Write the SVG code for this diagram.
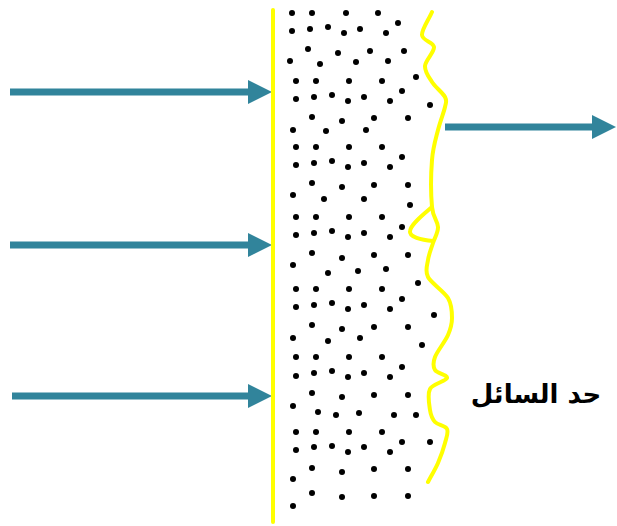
<svg xmlns="http://www.w3.org/2000/svg" width="617" height="526" viewBox="0 0 617 526">
  <style>
    .flow { stroke: #31849b; stroke-width: 7; fill: none; marker-end: url(#head); }
    .wall { stroke: #ffff00; stroke-width: 4; fill: none; stroke-linecap: round; stroke-linejoin: round; }
    .dot { fill: #000000; }
    .label { font-family: "DejaVu Sans", "Noto Sans", sans-serif; font-weight: bold; font-size: 26px; fill: #000000; }
  </style>
  <defs>
    <marker id="head" markerUnits="userSpaceOnUse" viewBox="0 0 24 24" markerWidth="24" markerHeight="24" refX="16" refY="12" orient="auto">
      <path d="M0,0 L24,12 L0,24 Z" fill="#31849b"/>
    </marker>
  </defs>
  <rect width="617" height="526" fill="#ffffff"/>

  <!-- incoming and outgoing flow arrows -->
  <g id="connectors">
    <line class="flow" x1="10" y1="92" x2="264" y2="92"/>
    <line class="flow" x1="10" y1="245" x2="264" y2="245"/>
    <line class="flow" x1="12" y1="396" x2="264" y2="396"/>
    <line class="flow" x1="445" y1="127" x2="608" y2="127"/>
  </g>

  <!-- straight solid boundary -->
  <g id="solid-boundary">
    <line class="wall" x1="273" y1="10" x2="273" y2="522" stroke-linecap="butt"/>
  </g>

  <!-- particles between the two boundaries -->
  <g id="particles" class="dot">
    <circle cx="292" cy="13" r="3"/><circle cx="312" cy="13" r="3"/><circle cx="346" cy="13" r="3"/><circle cx="378" cy="13" r="3"/><circle cx="398" cy="23" r="3"/>
    <circle cx="292" cy="31" r="3"/><circle cx="310" cy="29" r="3"/><circle cx="328" cy="27" r="3"/><circle cx="344" cy="33" r="3"/><circle cx="360" cy="29" r="3"/><circle cx="386" cy="33" r="3"/>
    <circle cx="308" cy="49" r="3"/><circle cx="338" cy="53" r="3"/><circle cx="370" cy="51" r="3"/><circle cx="404" cy="51" r="3"/>
    <circle cx="290" cy="61" r="3"/><circle cx="320" cy="64" r="3"/><circle cx="356" cy="62" r="3"/><circle cx="388" cy="61" r="3"/>
    <circle cx="296" cy="81" r="3"/><circle cx="316" cy="81" r="3"/><circle cx="349" cy="81" r="3"/><circle cx="382" cy="81" r="3"/><circle cx="416" cy="77" r="3"/>
    <circle cx="296" cy="99" r="3"/><circle cx="314" cy="97" r="3"/><circle cx="332" cy="95" r="3"/><circle cx="348" cy="101" r="3"/><circle cx="364" cy="97" r="3"/><circle cx="390" cy="101" r="3"/><circle cx="402" cy="91" r="3"/><circle cx="430" cy="105" r="3"/>
    <circle cx="312" cy="117" r="3"/><circle cx="342" cy="121" r="3"/><circle cx="374" cy="118" r="3"/><circle cx="408" cy="118" r="3"/>
    <circle cx="293" cy="130" r="3"/><circle cx="326" cy="131" r="3"/><circle cx="366" cy="130" r="3"/>
    <circle cx="296" cy="147" r="3"/><circle cx="316" cy="147" r="3"/><circle cx="349" cy="147" r="3"/><circle cx="382" cy="147" r="3"/><circle cx="402" cy="157" r="3"/>
    <circle cx="296" cy="165" r="3"/><circle cx="314" cy="163" r="3"/><circle cx="332" cy="161" r="3"/><circle cx="348" cy="167" r="3"/><circle cx="364" cy="163" r="3"/><circle cx="390" cy="167" r="3"/>
    <circle cx="312" cy="183" r="3"/><circle cx="342" cy="187" r="3"/><circle cx="374" cy="185" r="3"/><circle cx="408" cy="185" r="3"/>
    <circle cx="293" cy="195" r="3"/><circle cx="324" cy="199" r="3"/><circle cx="364" cy="199" r="3"/><circle cx="410" cy="205" r="3"/>
    <circle cx="296" cy="217" r="3"/><circle cx="316" cy="217" r="3"/><circle cx="349" cy="217" r="3"/><circle cx="382" cy="217" r="3"/><circle cx="402" cy="227" r="3"/>
    <circle cx="296" cy="235" r="3"/><circle cx="314" cy="233" r="3"/><circle cx="332" cy="231" r="3"/><circle cx="348" cy="237" r="3"/><circle cx="364" cy="233" r="3"/><circle cx="390" cy="237" r="3"/>
    <circle cx="312" cy="253" r="3"/><circle cx="342" cy="258" r="3"/><circle cx="374" cy="255" r="3"/><circle cx="408" cy="255" r="3"/>
    <circle cx="293" cy="265" r="3"/><circle cx="328" cy="273" r="3"/><circle cx="358" cy="271" r="3"/><circle cx="386" cy="269" r="3"/><circle cx="418" cy="283" r="3"/>
    <circle cx="296" cy="289" r="3"/><circle cx="316" cy="289" r="3"/><circle cx="349" cy="289" r="3"/><circle cx="382" cy="289" r="3"/><circle cx="402" cy="299" r="3"/>
    <circle cx="296" cy="307" r="3"/><circle cx="314" cy="305" r="3"/><circle cx="332" cy="303" r="3"/><circle cx="348" cy="309" r="3"/><circle cx="364" cy="305" r="3"/><circle cx="390" cy="309" r="3"/><circle cx="434" cy="315" r="3"/>
    <circle cx="312" cy="325" r="3"/><circle cx="342" cy="329" r="3"/><circle cx="374" cy="327" r="3"/><circle cx="408" cy="327" r="3"/>
    <circle cx="293" cy="338" r="3"/><circle cx="328" cy="341" r="3"/><circle cx="360" cy="338" r="3"/><circle cx="422" cy="345" r="3"/>
    <circle cx="296" cy="357" r="3"/><circle cx="316" cy="357" r="3"/><circle cx="349" cy="357" r="3"/><circle cx="382" cy="357" r="3"/><circle cx="402" cy="367" r="3"/>
    <circle cx="296" cy="376" r="3"/><circle cx="314" cy="373" r="3"/><circle cx="332" cy="371" r="3"/><circle cx="348" cy="377" r="3"/><circle cx="364" cy="373" r="3"/><circle cx="390" cy="377" r="3"/>
    <circle cx="312" cy="393" r="3"/><circle cx="342" cy="397" r="3"/><circle cx="374" cy="395" r="3"/><circle cx="408" cy="395" r="3"/>
    <circle cx="293" cy="406" r="3"/><circle cx="318" cy="412" r="3"/><circle cx="336" cy="415" r="3"/><circle cx="359" cy="413" r="3"/><circle cx="394" cy="415" r="3"/><circle cx="416" cy="415" r="3"/>
    <circle cx="296" cy="432" r="3"/><circle cx="316" cy="432" r="3"/><circle cx="349" cy="432" r="3"/><circle cx="382" cy="432" r="3"/><circle cx="402" cy="442" r="3"/><circle cx="430" cy="442" r="3"/>
    <circle cx="296" cy="450" r="3"/><circle cx="314" cy="447" r="3"/><circle cx="332" cy="446" r="3"/><circle cx="348" cy="452" r="3"/><circle cx="364" cy="447" r="3"/><circle cx="390" cy="452" r="3"/>
    <circle cx="312" cy="468" r="3"/><circle cx="342" cy="472" r="3"/><circle cx="374" cy="469" r="3"/><circle cx="408" cy="469" r="3"/>
    <circle cx="293" cy="479" r="3"/>
    <circle cx="312" cy="493" r="3"/><circle cx="342" cy="497" r="3"/><circle cx="374" cy="496" r="3"/><circle cx="408" cy="496" r="3"/>
    <circle cx="293" cy="506" r="3"/>
  </g>

  <!-- irregular liquid boundary -->
  <g id="liquid-boundary">
    <path class="wall" d="M432,12 C428.7,19.7 421.7,29.2 422,35 C422.3,40.8 433.5,41.8 434,47 C434.5,52.2 425.3,60.2 425,66 C424.7,71.8 428.7,76.8 432,82 C435.3,87.2 442.8,92.8 445,97 C447.2,101.2 446.2,101.5 445,107 C443.8,112.5 440.2,121.2 438,130 C435.8,138.8 433,147.2 432,160 C431,172.8 431,195.8 432,207 C433,218.2 437.8,221 438,227 C438.2,233 434.7,237.5 433,243 C431.3,248.5 428.8,254.3 428,260 C427.2,265.7 424.7,270.7 428,277 C431.3,283.3 444,291.2 448,298 C452,304.8 452,311.8 452,318 C452,324.2 450.8,328.5 448,335 C445.2,341.5 437.2,351.2 435,357 C432.8,362.8 433,366.5 435,370 C437,373.5 447.8,374.8 447,378 C446.2,381.2 432.8,383.7 430,389 C427.2,394.3 429.2,404.5 430,410 C430.8,415.5 432.2,418.8 435,422 C437.8,425.2 445.3,425.5 447,429 C448.7,432.5 446.5,437.3 445,443 C443.5,448.7 440.8,456.5 438,463 C435.2,469.5 431.3,475.7 428,482"/>
    <path class="wall" d="M432,207 C424,214 411,224 410,231 C409,237 421,240 433,241"/>
  </g>

  <g id="liquid-label">
    <text class="label" x="536" y="403" text-anchor="middle">حد السائل</text>
  </g>
</svg>
